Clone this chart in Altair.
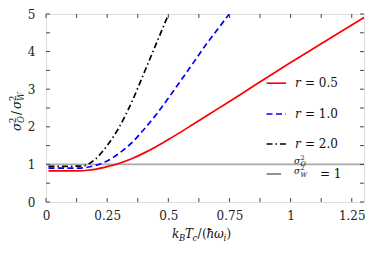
import altair as alt
import pandas as pd

# ---------------- data ----------------
red_x = [0.01, 0.10, 0.13, 0.17, 0.20, 0.25, 0.30, 0.35, 0.40, 0.45, 0.50, 0.60, 0.70, 0.80, 0.90, 1.00, 1.10, 1.20, 1.30]
red_y = [0.83, 0.83, 0.83, 0.845, 0.87, 0.94, 1.03, 1.15, 1.30, 1.47, 1.66, 2.06, 2.47, 2.88, 3.30, 3.71, 4.11, 4.51, 4.91]

blue_x = [0.01, 0.10, 0.13, 0.17, 0.20, 0.25, 0.30, 0.35, 0.40, 0.45, 0.50, 0.55, 0.60, 0.65, 0.70, 0.755]
blue_y = [0.90, 0.90, 0.90, 0.925, 0.97, 1.09, 1.30, 1.57, 1.93, 2.32, 2.76, 3.22, 3.68, 4.15, 4.58, 5.05]

black_x = [0.01, 0.10, 0.15, 0.20, 0.25, 0.30, 0.35, 0.40, 0.45, 0.50]
black_y = [0.95, 0.95, 0.96, 1.13, 1.50, 2.00, 2.65, 3.42, 4.20, 4.98]

ref_level = [1.0]

x_tick_labels = [0, 0.25, 0.5, 0.75, 1, 1.25]
y_tick_labels = [0, 1, 2, 3, 4, 5]
x_minor_ticks = [0, 0.125, 0.25, 0.375, 0.5, 0.625, 0.75, 0.875, 1.0, 1.125, 1.25]
y_minor_ticks = [0, 0.5, 1, 1.5, 2, 2.5, 3, 3.5, 4, 4.5, 5]

legend_values = ["0.5", "1.0", "2.0"]

# ---------------- layout ----------------
W, H = 318, 188
FONT = "DejaVu Serif, Liberation Serif, serif"
FRAME = "#444444"
LS = 12  # main text size

xs = alt.Scale(domain=[0, 1.3], nice=False, zero=False)
ys = alt.Scale(domain=[0, 5], nice=False, zero=False)

x_axis = alt.Axis(values=x_tick_labels, format=".2~f", ticks=False, tickSize=0, domain=False,
                  grid=False, labelFont=FONT, labelFontSize=LS, labelPadding=8,
                  labelColor="#222222", labelFlush=False, labelOverlap=False, title=None)
y_axis = alt.Axis(values=y_tick_labels, format=".0f", ticks=False, tickSize=0, domain=False,
                  grid=False, labelFont=FONT, labelFontSize=LS, labelPadding=11,
                  labelColor="#222222", labelFlush=False, labelOverlap=False, title=None)


def piece(text, x, y, size=LS, italic=False, angle=0, baseline="alphabetic", color="#111111"):
    return alt.Chart(pd.DataFrame({"t": [text]})).mark_text(
        font=FONT, fontSize=size, fontStyle="italic" if italic else "normal",
        angle=angle, align="left", baseline=baseline, color=color
    ).encode(x=alt.value(x), y=alt.value(y), text="t:N")


def seg(x1, x2, y, color, dash=None, width=1.6):
    kw = dict(color=color, strokeWidth=width)
    if dash:
        kw["strokeDash"] = dash
    return alt.Chart(pd.DataFrame({"a": [0]})).mark_rule(**kw).encode(
        x=alt.value(x1), x2=alt.value(x2), y=alt.value(y))


ref_rule = alt.Chart(pd.DataFrame({"y": ref_level})).mark_rule(
    color="#aaaaaa", strokeWidth=1.6
).encode(y=alt.Y("y:Q", scale=ys, axis=y_axis))


def curve(xv, yv, color, dash=None):
    kw = dict(color=color, strokeWidth=1.7, clip=True, interpolate="monotone")
    if dash:
        kw["strokeDash"] = dash
    return alt.Chart(pd.DataFrame({"x": xv, "y": yv})).mark_line(**kw).encode(
        x=alt.X("x:Q", scale=xs, axis=x_axis),
        y=alt.Y("y:Q", scale=ys, axis=y_axis),
    )


red = curve(red_x, red_y, "#ff0000")
blue = curve(blue_x, blue_y, "#0000ff", [6, 3.5])
black = curve(black_x, black_y, "#000000", [6, 3, 1.5, 3])

TL = 4
xt = pd.DataFrame({"x": x_minor_ticks})
yt = pd.DataFrame({"y": y_minor_ticks})
tick_kw = dict(color=FRAME, strokeWidth=1)
ticks_bottom = alt.Chart(xt).mark_rule(**tick_kw).encode(
    x=alt.X("x:Q", scale=xs, axis=x_axis), y=alt.value(H), y2=alt.value(H - TL))
ticks_top = alt.Chart(xt).mark_rule(**tick_kw).encode(
    x=alt.X("x:Q", scale=xs, axis=x_axis), y=alt.value(0), y2=alt.value(TL))
ticks_left = alt.Chart(yt).mark_rule(**tick_kw).encode(
    y=alt.Y("y:Q", scale=ys, axis=y_axis), x=alt.value(0), x2=alt.value(TL))
ticks_right = alt.Chart(yt).mark_rule(**tick_kw).encode(
    y=alt.Y("y:Q", scale=ys, axis=y_axis), x=alt.value(W), x2=alt.value(W - TL))

# ---------------- legend (drawn by hand) ----------------
leg_y = [69.2, 100.0, 130.0]
leg_cols = ["#ff0000", "#0000ff", "#000000"]
leg_dash = [None, [6, 3.5], [6, 3, 1.5, 3]]
legend = []
for i in range(3):
    legend.append(seg(220.5, 240, leg_y[i], leg_cols[i], leg_dash[i]))
    legend.append(piece("r", 249, leg_y[i], italic=True, baseline="middle"))
    legend.append(piece("= " + legend_values[i], 259, leg_y[i], baseline="middle"))
legend.append(seg(220.5, 235, 160.0, "#222222", None, 1.0))
# fraction sigma_O^2 / sigma_W^2 = 1
legend += [
    piece("σ", 248, 150.0, size=9, italic=True),
    piece("2", 254.5, 146.0, size=6.5),
    piece("O", 254.5, 152.0, size=6.5, italic=True),
    piece("σ", 248, 160.0, size=9, italic=True),
    piece("2", 254.5, 156.0, size=6.5),
    piece("W", 254.5, 162.5, size=6.5, italic=True),
    piece("= 1", 274, 160.0, baseline="middle"),
]

# ---------------- axis titles (composed) ----------------
xt_base = 224
xt_sub = 227
SUB = 8.5
x0 = 126
x_title = [
    piece("k", x0 + 0, xt_base, italic=True),
    piece("B", x0 + 7, xt_sub, size=SUB, italic=True),
    piece("T", x0 + 13, xt_base, italic=True),
    piece("c", x0 + 20.5, xt_sub, size=SUB, italic=True),
    piece("/", x0 + 25.5, xt_base),
    piece("(", x0 + 30, xt_base),
    piece("ħ", x0 + 34.5, xt_base, italic=True),
    piece("ω", x0 + 42, xt_base, italic=True),
    piece("i", x0 + 51.5, xt_sub, size=SUB, italic=True),
    piece(")", x0 + 54.5, xt_base),
]

ym, ysup, ysub = -25, -30, -22
y_title = [
    piece("σ", ym, 117, italic=True, angle=270),
    piece("2", ysup, 109, size=SUB, angle=270),
    piece("O", ysub, 109, size=SUB, italic=True, angle=270),
    piece("/", ym, 101, angle=270),
    piece("σ", ym, 95, italic=True, angle=270),
    piece("2", ysup, 87, size=SUB, angle=270),
    piece("W", ysub, 87, size=SUB, italic=True, angle=270),
]

chart = alt.layer(
    ref_rule, red, blue, black,
    ticks_bottom, ticks_top, ticks_left, ticks_right,
    *legend, *x_title, *y_title
).properties(
    width=W, height=H,
    autosize=alt.AutoSizeParams(type="none"),
    padding={"left": 38, "top": 6, "right": 1, "bottom": 42},
).configure_view(
    stroke=FRAME, strokeWidth=1.3
).configure(background="white")

chart.save("out.html", embed_options={"renderer": "svg", "actions": False})
